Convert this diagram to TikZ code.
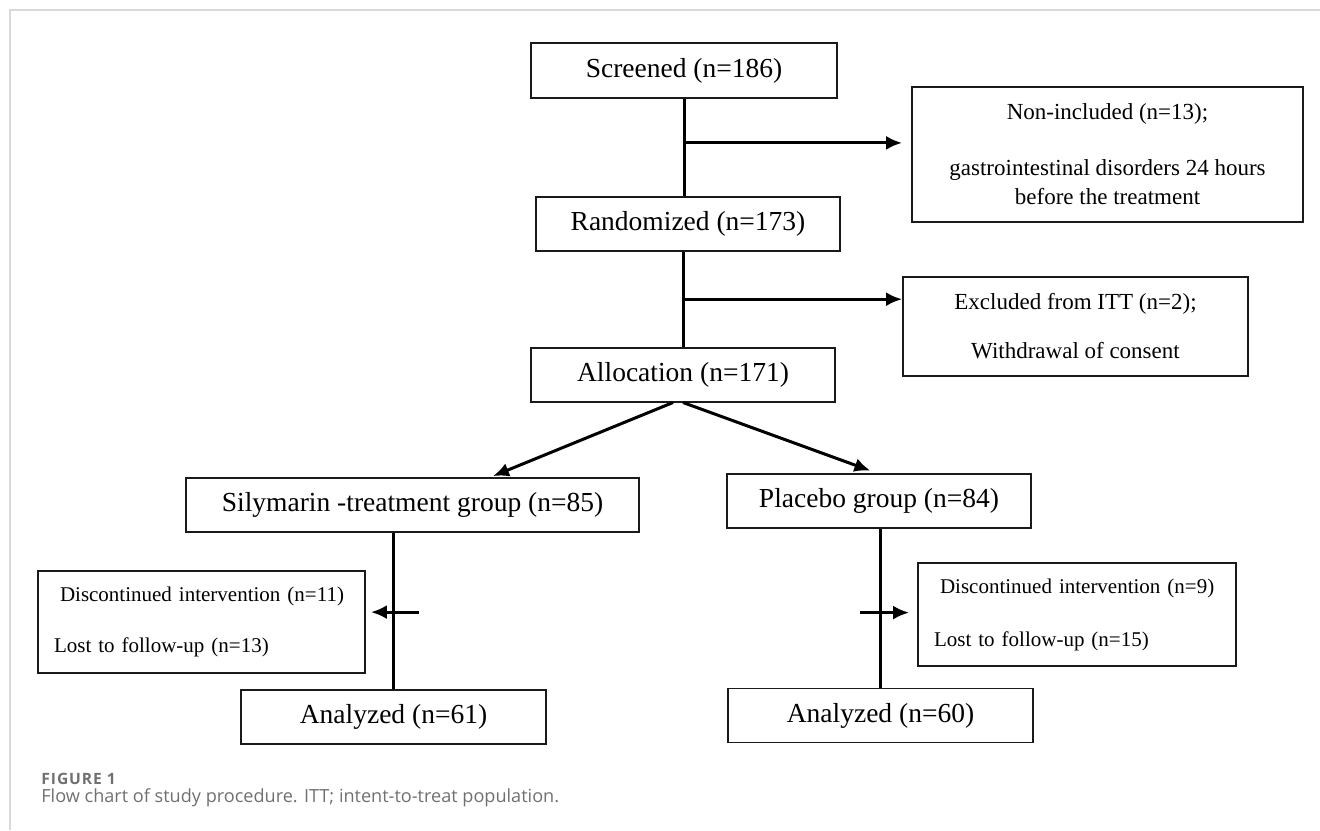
\documentclass[tikz,border=0pt]{standalone}
\usepackage{fontspec}
\setmainfont{Liberation Serif}
\newfontfamily\capfont{Open Sans}
\usepackage{xcolor}
\usepackage{tikz}
\usetikzlibrary{calc, arrows.meta, positioning}
\definecolor{framegray}{HTML}{D9D9D9}
\definecolor{captiongray}{HTML}{707070}
\definecolor{boxblack}{HTML}{1A1A1A}
\tikzset{
  stage/.style={
    rectangle, draw=boxblack, line width=0.9pt, inner sep=0pt,
    minimum width=152pt, minimum height=27pt,
    font=\fontsize{13.75}{16}\selectfont
  },
  note/.style={
    rectangle, draw=boxblack, line width=0.9pt, inner sep=0pt,
    align=center, font=\fontsize{11.5}{14.5}\selectfont
  },
  lossnote/.style={
    rectangle, draw=boxblack, line width=0.9pt, inner xsep=8pt,
    inner ysep=0pt, align=left, font=\fontsize{10.5}{13}\selectfont
  },
  myline/.style={line width=1.5pt, color=black},
  myarrow/.style={-{Latex[length=8pt, width=7pt]}, line width=1.5pt, color=black},
  captext/.style={anchor=west, inner sep=0pt, text=captiongray},
}

\begin{document}
\begin{tikzpicture}[x=0.5pt, y=-0.5pt]

  \useasboundingbox (0,0) rectangle (1320,830);

  % --- page frame ---
  \draw[framegray, line width=1pt] (10,830) -- (10,10) -- (1320,10);

  % --- main column ---
  \node[stage, minimum width=153pt, minimum height=27.5pt] (scr) at (684,70.5)
    {Screened (n=186)};
  \node[stage, below=48.5pt of scr, xshift=2pt] (rnd) {Randomized (n=173)};
  \node[stage, below=47.5pt of rnd, xshift=-2.5pt] (alc) {Allocation (n=171)};

  % --- side boxes ---
  \node[note, minimum width=195.5pt, minimum height=67.5pt] (non) at (1107.5,154.5)
    {Non-included (n=13);\\[13.5pt]gastrointestinal disorders 24 hours\\before the treatment};
  \node[note, minimum width=172.5pt, minimum height=49.5pt] (exc) at (1075.5,326.5)
    {Excluded from ITT (n=2);\\[10pt]Withdrawal of consent};

  % --- arms ---
  \node[stage, minimum width=226.5pt] (sil) at (412.5,505)
    {Silymarin -treatment group (n=85)};
  \node[stage] (pla) at (879,501) {Placebo group (n=84)};

  \node[lossnote, text width=147.5pt, minimum height=51pt] (disL) at (201.5,622)
    {\hspace*{3pt}Discontinued intervention (n=11)\\[12.5pt]Lost to follow-up (n=13)};
  \node[lossnote, text width=143pt, minimum height=51.5pt] (disR) at (1077,614.5)
    {\hspace*{3pt}Discontinued intervention (n=9)\\[13.5pt]Lost to follow-up (n=15)};

  \node[stage, minimum width=152.5pt] (anaL) at (393.5,717) {Analyzed (n=61)};
  \node[stage, minimum width=152.5pt] (anaR) at (880.5,715.5) {Analyzed (n=60)};

  % --- caption ---
  \node[captext, font=\capfont\bfseries\fontsize{7.8}{9}\selectfont\addfontfeature{LetterSpace=6}]
    (fig) at (41,779) {FIGURE 1};
  \node[captext, font=\capfont\fontsize{9.05}{11}\selectfont] (cap) at (41,798)
    {Flow chart of study procedure. ITT; intent-to-treat population.};

  % --- screening -> randomization ---
  \coordinate (j1) at ($(scr.south)+(0,44)$);
  \draw[myline] (scr.south) -- (scr.south |- rnd.north);
  \draw[myarrow, shorten >=4.5pt] (j1) -- (j1 -| non.west);

  % --- randomization -> allocation ---
  \coordinate (j2) at ($(alc.north |- rnd.south)!0.5!(alc.north)$);
  \draw[myline] (alc.north |- rnd.south) -- (alc.north);
  \draw[myarrow] (j2) -- (j2 -| exc.west);

  % --- allocation -> arms ---
  \draw[myarrow] ([xshift=-5pt]alc.south) -- ($(sil.north)+(80.5,-1)$);
  \draw[myarrow, shorten >=3.5pt] (alc.south) -- ($(pla.north)+(-2,0)$);

  % --- arms -> analysis ---
  \coordinate (kL) at ($(anaL.north)+(25.5,-77)$);
  \draw[myline] (anaL.north |- sil.south) -- (anaL.north);
  \draw[myarrow, shorten >=2.5pt] (kL) -- (kL -| disL.east);

  \coordinate (kR) at ($(anaR.north)+(-20.5,-75)$);
  \draw[myline] (anaR.north |- pla.south) -- (anaR.north);
  \draw[myarrow, shorten >=4pt] (kR) -- (kR -| disR.west);

\end{tikzpicture}
\end{document}
